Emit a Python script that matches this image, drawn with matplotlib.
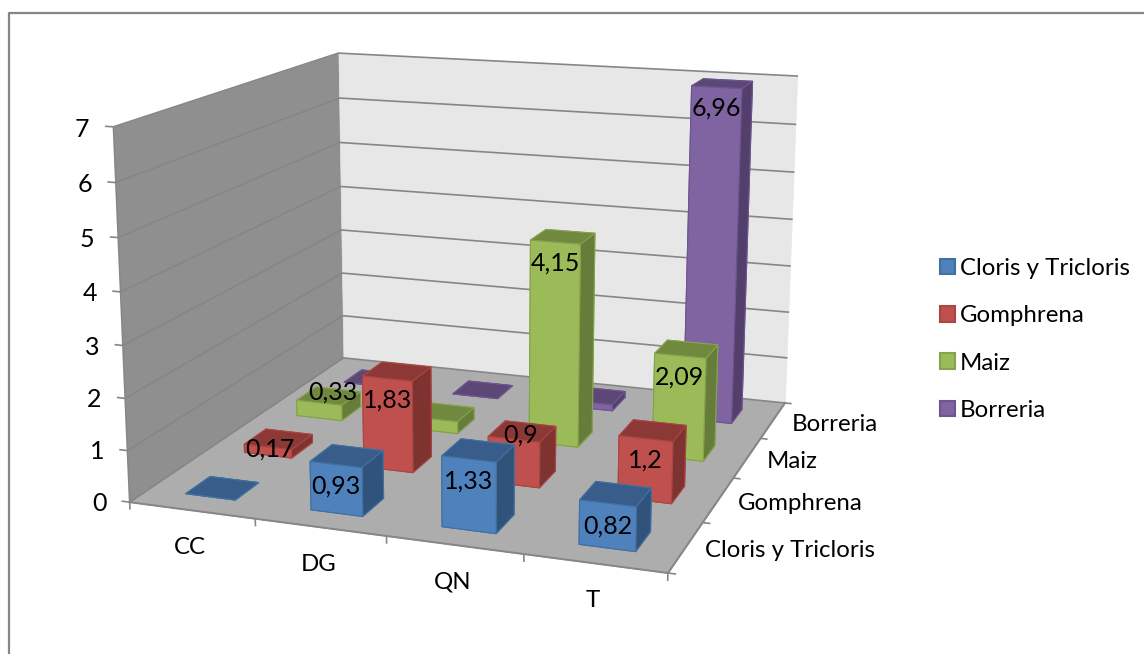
import numpy as np
import matplotlib
matplotlib.use("Agg")
import matplotlib.pyplot as plt
from matplotlib.lines import Line2D
from matplotlib.patches import Patch
from mpl_toolkits.mplot3d.art3d import Poly3DCollection

plt.rcParams['font.family'] = ['Lato', 'DejaVu Sans']

columns = ["CC", "DG", "QN", "T"]
series = ["Cloris y Tricloris", "Gomphrena", "Maiz", "Borreria"]
cloris = [0.0, 0.93, 1.33, 0.82]
gomphrena = [0.17, 1.83, 0.9, 1.2]
maiz = [0.33, 0.25, 4.15, 2.09]
borreria = [0.0, 0.0, 0.13, 6.96]
# small bars with no label in the original
hidden_labels = [(0, 0), (2, 1), (3, 0), (3, 1), (3, 2)]
z_ticks = [0, 1, 2, 3, 4, 5, 6, 7]

values = [cloris, gomphrena, maiz, borreria]
front_cols = ["#4F81BD", "#C0504D", "#9BBB59", "#8064A2"]
top_cols = ["#385D8A", "#8C3836", "#71893F", "#5C4776"]
side_cols = ["#31527A", "#7E3331", "#667C3A", "#533F6B"]
edge_cols = ["#41719F", "#A94643", "#86A24C", "#6E5590"]

W, H = 1144, 654
GRID = "#868686"
BAR_W = 0.4

fig = plt.figure(figsize=(W / 100, H / 100), dpi=100, facecolor="white")
# mplot3d forces a square box, so make the square as wide as the figure
ax = fig.add_axes([0, (1 - W / H) / 2, 1, W / H], projection="3d")
ax.set_axis_off()
ax.patch.set_visible(False)
ax.computed_zorder = False

# camera fitted on the corners of the chart box (world -> pixel)
world = [(0, 0, 0), (4, 0, 0), (4, 4, 0), (0, 4, 0), (0, 0, 7), (0, 4, 7), (4, 4, 7)]
pixel = [(130, 502), (668, 573), (785, 403), (343, 358), (113, 127), (339, 53), (797, 76)]
rows = []
for (x, y, z), (u, v) in zip(world, pixel):
    rows.append([x, y, z, 1, 0, 0, 0, 0, -u * x, -u * y, -u * z, -u])
    rows.append([0, 0, 0, 0, x, y, z, 1, -v * x, -v * y, -v * z, -v])
P = np.linalg.svd(np.array(rows, dtype=float))[2][-1].reshape(3, 4)
if P[2, 3] < 0:
    P = -P


def fitted_proj():
    x0, x1 = ax.viewLim.intervalx
    y0, y1 = ax.viewLim.intervaly
    a = (x1 - x0) / W
    c = -(y1 - y0) / W
    d = y0 + (H + (W - H) / 2) / W * (y1 - y0)
    return np.array([
        a * P[0] + x0 * P[2],
        c * P[1] + d * P[2],
        [0, 0, 0, -1],
        P[2],
    ])


ax.get_proj = fitted_proj


def label(x, y, z, s, dx=0, dy=0, size=17.3, ha="center"):
    # text goes on the figure, at the projected point plus a pixel offset
    u, v, w = P @ np.array([x, y, z, 1.0])
    fig.text((u / w + dx) / W, 1 - (v / w + dy) / H, s, ha=ha, va="center", fontsize=size,
             color="black", zorder=10)


# walls and floor
walls = [
    ([(0, 0, 0), (0, 4, 0), (0, 4, 7), (0, 0, 7)], "#8F8F8F"),
    ([(0, 4, 0), (4, 4, 0), (4, 4, 7), (0, 4, 7)], "#E7E7E7"),
    ([(0, 0, 0), (4, 0, 0), (4, 4, 0), (0, 4, 0)], "#ADADAD"),
]
for verts, col in walls:
    ax.add_collection3d(Poly3DCollection([verts], facecolors=col, edgecolors=col,
                                         linewidths=0.5, zorder=1))

ax.plot([0, 0], [0, 0], [0, 7], color=GRID, lw=1.2, zorder=2)
ax.plot([0, 4, 4], [0, 0, 4], [0, 0, 0], color=GRID, lw=1.4, zorder=2)
for k in z_ticks:
    ax.plot([-0.06, 0, 0, 4], [0, 0, 4, 4], [k, k, k, k], color=GRID, lw=1.2, zorder=2)
    label(-0.19, 0, k, str(k), dy=4, size=18, ha="right")

for i in range(5):
    ax.plot([i, i], [0, 0], [0, -0.13], color=GRID, lw=1.2, zorder=2)
    ax.plot([4, 4.05], [i, i], [0, 0], color=GRID, lw=1.2, zorder=2)

for i, name in enumerate(columns):
    label(i + 0.5, 0, 0, name, dx=-2, dy=37)
for j, name in enumerate(series):
    label(4, j + 0.5, 0, name, dx=19, dy=4, ha="left")

# bars, back row first and left to right
zo = 10
for j in [3, 2, 1, 0]:
    for i in range(4):
        val = values[j][i]
        face_cols = [top_cols[j], top_cols[j], front_cols[j], front_cols[j],
                     side_cols[j], side_cols[j]]
        ax.bar3d(i + 0.5 - BAR_W / 2, j + 0.5 - BAR_W / 2, 0, BAR_W, BAR_W, val,
                 color=face_cols, edgecolor=edge_cols[j], linewidth=0.8, shade=False, zorder=zo)
        zo += 1

# data labels, (dx in pixels, dz in value units) where the default does not fit
nudge = {(1, 0): (2, 0.0), (2, 0): (14, 0.27), (1, 2): (7, 0.13)}
for j in range(4):
    for i in range(4):
        if (j, i) in hidden_labels:
            continue
        val = values[j][i]
        dx, dz = nudge.get((j, i), (0, -0.38))
        label(i + 0.5, j + 0.5 - BAR_W / 2, val + dz, f"{val:g}".replace(".", ","),
              dx=dx, dy=2, size=18)

handles = [Patch(facecolor=front_cols[j], edgecolor=edge_cols[j], linewidth=1.5, label=series[j])
           for j in range(4)]
fig.legend(handles=handles, loc="center left", bbox_to_anchor=(918 / W, 1 - 339.5 / H),
           frameon=False, fontsize=17.3, handlelength=0.62, handleheight=0.62,
           handletextpad=0.22, labelspacing=1.1)

# chart area border, only top and left are inside the picture
fig.add_artist(Line2D([9 / W, 9 / W, 1], [0, 1 - 12.5 / H, 1 - 12.5 / H], color=GRID, lw=1.6))

fig.savefig("out.png", dpi=100)
